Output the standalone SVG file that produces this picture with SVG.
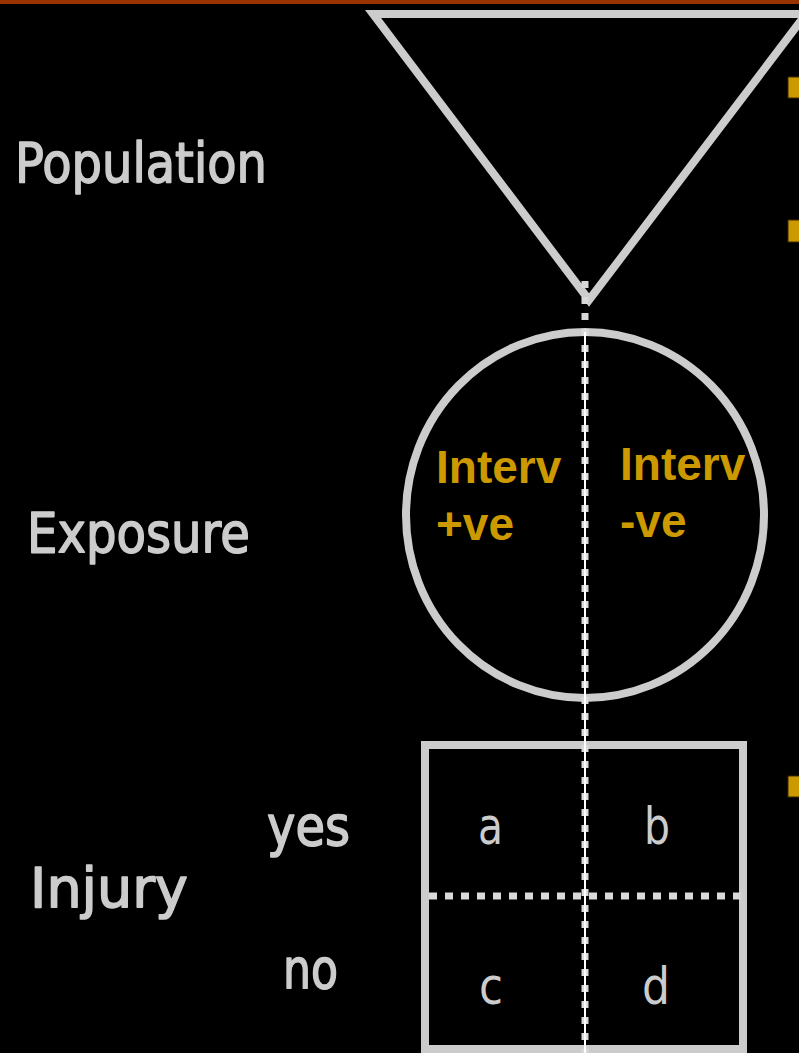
<svg xmlns="http://www.w3.org/2000/svg" width="799" height="1053" viewBox="0 0 799 1053">
<defs>
<style>
.lbl{font-family:"DejaVu Sans","Liberation Sans",sans-serif;font-size:55px;fill:#CCCCCC;stroke:#CCCCCC;stroke-width:1.6;stroke-linejoin:round}
.cell{font-family:"DejaVu Sans","Liberation Sans",sans-serif;font-size:52px;fill:#CCCCCC}
.iv{font-family:"Liberation Sans",Arial,sans-serif;font-size:46px;font-weight:bold;fill:#CC9900}
.shape{fill:none;stroke:#CCCCCC;stroke-width:8}
.dots{fill:none;stroke:#D9D9D9;stroke-width:7}
.bullet{fill:#CC9900;stroke:#3a2a00;stroke-width:1}
</style>
</defs>
<rect x="0" y="0" width="799" height="1053" fill="#000000"/>
<rect x="0" y="0" width="799" height="4" fill="#993300"/>
<g id="bullets">
<rect class="bullet" x="788" y="77" width="14" height="21"/>
<rect class="bullet" x="788" y="220" width="14" height="22"/>
<rect class="bullet" x="788" y="776" width="14" height="21"/>
</g>
<g id="labels">
<text class="lbl" x="15" y="182" textLength="252" lengthAdjust="spacingAndGlyphs">Population</text>
<text class="lbl" x="27" y="552" textLength="223" lengthAdjust="spacingAndGlyphs">Exposure</text>
<text class="lbl" x="30" y="907" textLength="158" lengthAdjust="spacingAndGlyphs">Injury</text>
<text class="lbl" x="267" y="845" textLength="83" lengthAdjust="spacingAndGlyphs">yes</text>
<text class="lbl" x="283" y="988" textLength="55" lengthAdjust="spacingAndGlyphs">no</text>
</g>
<g id="population">
<polygon class="shape" points="373,14 806,14 589,300" stroke-linejoin="miter"/>
</g>
<g id="exposure">
<ellipse class="shape" cx="585" cy="515" rx="179" ry="183"/>
<text class="iv" x="436" y="483">Interv</text>
<text class="iv" x="436" y="540">+ve</text>
<text class="iv" x="620" y="480">Interv</text>
<text class="iv" x="620" y="537">-ve</text>
</g>
<g id="injury">
<rect class="shape" x="425" y="745" width="318" height="304"/>
<text class="cell" x="478" y="844" textLength="25" lengthAdjust="spacingAndGlyphs">a</text>
<text class="cell" x="644" y="844" textLength="26" lengthAdjust="spacingAndGlyphs">b</text>
<text class="cell" x="479" y="1004" textLength="24" lengthAdjust="spacingAndGlyphs">c</text>
<text class="cell" x="642" y="1004" textLength="28" lengthAdjust="spacingAndGlyphs">d</text>
</g>
<g id="connectors">
<line class="dots" x1="429" y1="896" x2="741" y2="896" stroke-dasharray="8 8"/>
<line class="dots" x1="585" y1="281" x2="585" y2="1053" stroke-dasharray="7 9"/>
<line x1="585" y1="332" x2="585" y2="1053" stroke="#FFFFFF" stroke-width="2"/>
</g>
</svg>
